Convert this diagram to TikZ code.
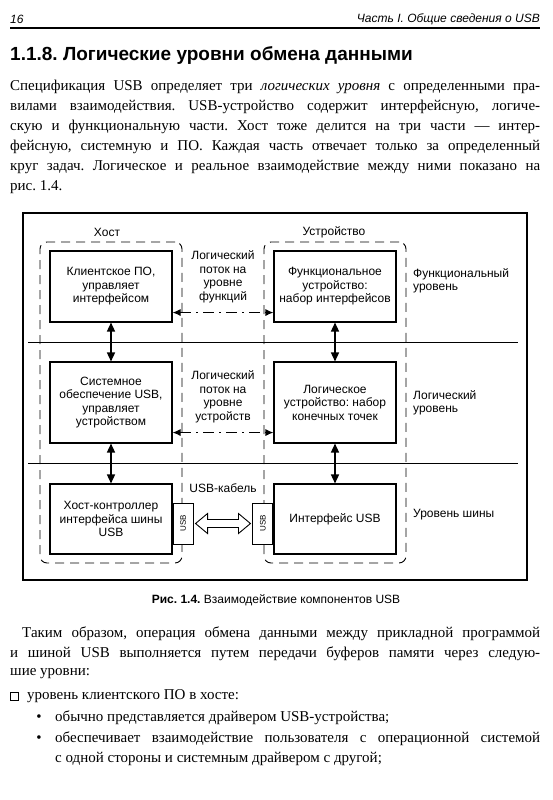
\documentclass[tikz,border=0pt]{standalone}
\usepackage{fontspec}
\setmainfont{Liberation Serif}
\setsansfont{Liberation Sans}
\usetikzlibrary{arrows.meta,positioning,calc}
\frenchspacing

% one justified line of body text
\newcommand{\jline}[2][530pt]{\makebox[#1][s]{#2}}

\begin{document}
\begin{tikzpicture}[x=1pt,y=-1pt,
  body/.style={anchor=west,inner sep=0pt,font=\fontsize{15}{20}\selectfont},
  head/.style={anchor=west,inner sep=0pt,font=\sffamily\itshape\fontsize{12}{14}\selectfont},
  blk/.style={draw,line width=1.1pt,fill=white,minimum width=122pt,align=center,
              inner sep=0pt,font=\sffamily\fontsize{12}{13.5}\selectfont},
  region/.style={draw,dash pattern=on 9pt off 6pt,line width=0.9pt,rounded corners=7pt},
  sep/.style={line width=0.6pt},
  lbl/.style={font=\sffamily\fontsize{12}{13.5}\selectfont,align=center,inner sep=0pt},
  lvl/.style={lbl,align=left,anchor=west},
  usbbox/.style={draw,line width=1pt,fill=white,minimum width=20pt,minimum height=41pt,
                 inner sep=0pt,font=\sffamily\fontsize{8}{8}\selectfont},
  link/.style={{Triangle[length=9pt,width=8pt]}-{Triangle[length=9pt,width=8pt]},line width=1.5pt},
  flow/.style={{Latex[length=8pt,width=7pt]}-{Latex[length=8pt,width=7pt]},line width=1.1pt,
               dash pattern=on 11pt off 5pt on 2pt off 5pt},
  cable/.style={line width=0.9pt,fill=white}
]
\useasboundingbox (0,0) rectangle (553,800);

% Running head
\node[head] (pgnum) at (10,19) {16};
\node[head,anchor=east] (runhead) at (540,19) {Часть I. Общие сведения о USB};
\draw[line width=2pt] (10,28) -- (540,28);

% Section title
\node[anchor=west,inner sep=0pt,font=\sffamily\bfseries\fontsize{19}{22}\selectfont] (title)
  at (10,56) {1.1.8. Логические уровни обмена данными};

% First paragraph
\node[body] (pa1) at (10,87) {\jline{Спецификация USB определяет три \textit{логических уровня} с определенными пра-}};
\node[body] (pa2) at (10,107) {\jline{вилами взаимодействия. USB-устройство содержит интерфейсную, логиче-}};
\node[body] (pa3) at (10,127) {\jline{скую и функциональную части. Хост тоже делится на три части — интер-}};
\node[body] (pa4) at (10,147) {\jline{фейсную, системную и ПО. Каждая часть отвечает только за определенный}};
\node[body] (pa5) at (10,167) {\jline{круг задач. Логическое и реальное взаимодействие между ними показано на}};
\node[body] (pa6) at (10,187) {рис. 1.4.};

% Figure frame and level separators
\draw[line width=1.1pt] (23,213) rectangle (527,580);
\draw[sep] (28,342) -- (518,342);
\draw[sep] (28,463) -- (518,463);

% Host and device areas
\node[region,minimum width=142pt,minimum height=321pt] (hostarea) at (111,402.5) {};
\node[region,minimum width=142pt,minimum height=321pt] (devarea) at (335,402.5) {};
\node[lbl] (hostlbl) at (107,232) {Хост};
\node[lbl] (devlbl) at (334,232) {Устройство};

% Host blocks
\node[blk,minimum height=71pt] (hc) at (111,286.5) {Клиентское ПО,\\управляет\\интерфейсом};
\node[blk,minimum height=81pt] (hs) at (111,402.5) {Системное\\обеспечение USB,\\управляет\\устройством};
\node[blk,minimum height=70pt] (hh) at (111,519) {Хост-контроллер\\интерфейса шины\\USB};

% Device blocks
\node[blk,minimum height=71pt] (dc) at (335,286.5) {Функциональное\\устройство:\\набор интерфейсов};
\node[blk,minimum height=81pt] (dl) at (335,402.5) {Логическое\\устройство: набор\\конечных точек};
\node[blk,minimum height=70pt] (di) at (335,519) {Интерфейс USB};

% USB ports
\node[usbbox,anchor=west] (uh) at ([yshift=-4.5pt]hh.east) {\rotatebox{90}{USB}};
\node[usbbox,anchor=east] (ud) at ([yshift=-4.5pt]di.west) {\rotatebox{90}{USB}};

% Vertical links
\draw[link] (hc.south) -- (hs.north);
\draw[link] (hs.south) -- (hh.north);
\draw[link] (dc.south) -- (dl.north);
\draw[link] (dl.south) -- (di.north);

% Logical flows
\draw[flow] ([yshift=10pt]hc.south east) -- ([yshift=10pt]dc.south west);
\draw[flow] ([yshift=11pt]hs.south east) -- ([yshift=11pt]dl.south west);
\node[lbl] (flowfn) at (223,277) {Логический\\поток на\\уровне\\функций};
\node[lbl] (flowdev) at (223,397) {Логический\\поток на\\уровне\\устройств};

% USB cable
\draw[cable] ($(uh.east)+(2,0)$) -- ++(12,-10) -- ++(0,6) -- ($(ud.west)+(-14,-4)$)
  -- ++(0,-6) -- ($(ud.west)+(-2,0)$) -- ++(-12,10) -- ++(0,-6)
  -- ($(uh.east)+(14,4)$) -- ++(0,6) -- cycle;
\node[lbl] (cablelbl) at (223,488) {USB-кабель};

% Level names
\node[lvl] (lvfn) at (413,281) {Функциональный\\уровень};
\node[lvl] (lvlog) at (413,403) {Логический\\уровень};
\node[lvl] (lvbus) at (413,515) {Уровень шины};

% Caption
\node[lbl,font=\sffamily\fontsize{12}{14}\selectfont] (caption) at (276,600)
  {\textbf{Рис. 1.4.} Взаимодействие компонентов USB};

% Text after the figure
\node[body] (pb1) at (22,634) {\jline[518pt]{Таким образом, операция обмена данными между прикладной программой}};
\node[body] (pb2) at (10,654) {\jline{и шиной USB выполняется путем передачи буферов памяти через следую-}};
\node[body] (pb3) at (10,674) {шие уровни:};
\node[draw,line width=0.9pt,minimum size=8pt,inner sep=0pt] (sq) at (14,696) {};
\node[body] (pb4) at (27,696) {уровень клиентского ПО в хосте:};
\node[body,anchor=center] (bul1) at (39,718) {\textbullet};
\node[body] (pb5) at (55,718) {обычно представляется драйвером USB-устройства;};
\node[body,anchor=center] (bul2) at (39,739) {\textbullet};
\node[body] (pb6) at (55,739) {\jline[485pt]{обеспечивает взаимодействие пользователя с операционной системой}};
\node[body] (pb7) at (55,759) {с одной стороны и системным драйвером с другой;};
\end{tikzpicture}
\end{document}
